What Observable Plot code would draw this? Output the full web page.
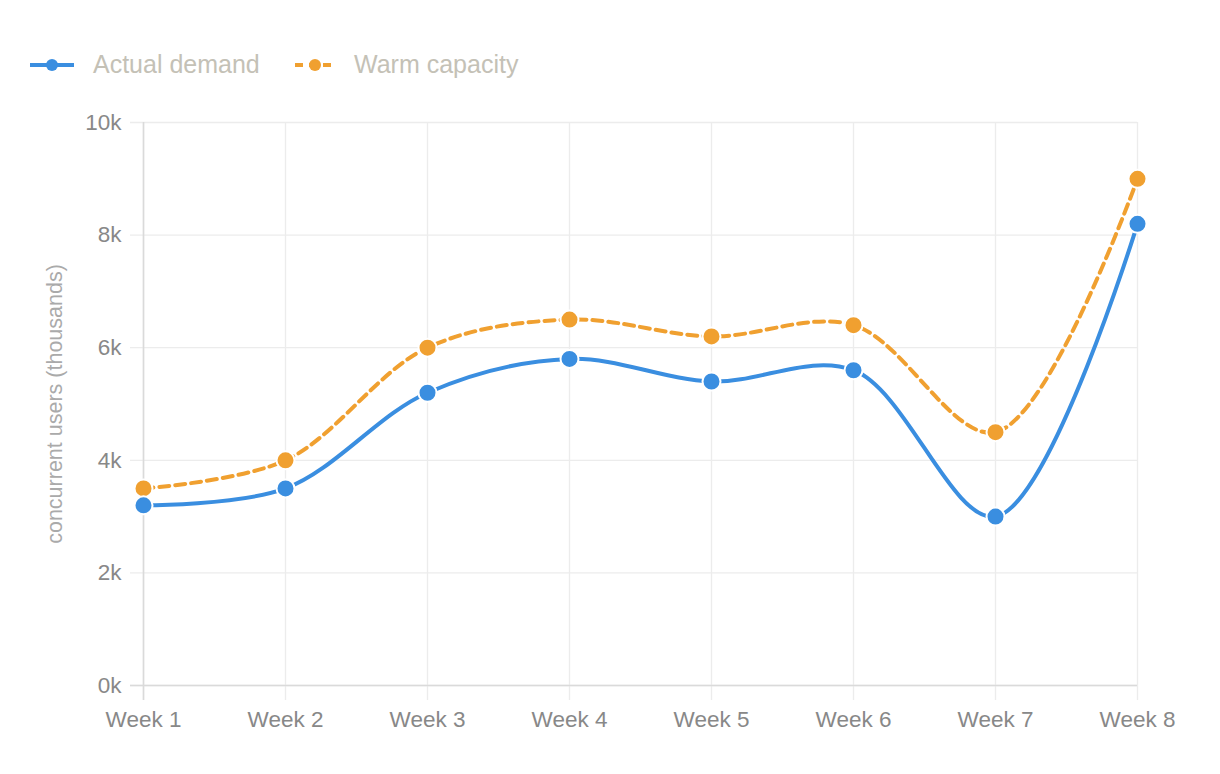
<!DOCTYPE html>
<html>
<head>
<meta charset="utf-8">
<script src="https://cdn.jsdelivr.net/npm/d3@7"></script>
<script src="https://cdn.jsdelivr.net/npm/@observablehq/plot@0.6"></script>
<style>
  html, body { margin: 0; padding: 0; background: #fff; }
  body { width: 1220px; height: 774px; overflow: hidden; font-family: "Liberation Sans", Arial, sans-serif; }
  #legend { height: 95px; position: relative; }
  .item { position: absolute; top: 50px; display: flex; align-items: center; font-size: 25px; color: #c4c1b6; }
  .item svg { margin-right: 19px; }
</style>
</head>
<body>
<div id="legend"></div>
<div id="chart"></div>
<script>
const weeks = ["Week 1","Week 2","Week 3","Week 4","Week 5","Week 6","Week 7","Week 8"];
const actualDemand = [3200, 3500, 5200, 5800, 5400, 5600, 3000, 8200];
const warmCapacity = [3500, 4000, 6000, 6500, 6200, 6400, 4500, 9000];
const yTicks = [0, 2000, 4000, 6000, 8000, 10000];
const seriesNames = ["Actual demand", "Warm capacity"];
const colors = ["#3a8ee0", "#f0a030"];

const actual = weeks.map((w, i) => ({week: w, value: actualDemand[i]}));
const warm = weeks.map((w, i) => ({week: w, value: warmCapacity[i]}));

// Legend
const legend = document.getElementById("legend");
const lefts = [30, 295];
seriesNames.forEach((name, i) => {
  const div = document.createElement("div");
  div.className = "item";
  div.style.left = lefts[i] + "px";
  const dash = i === 1 ? 'stroke-dasharray="8,6" stroke-dashoffset="0"' : "";
  const w = i === 0 ? 44 : 40;
  div.innerHTML = `<svg width="${w}" height="14"><line x1="0" x2="${w}" y1="7" y2="7" stroke="${colors[i]}" stroke-width="4" ${dash}/><circle cx="${w/2}" cy="7" r="6" fill="${colors[i]}"/></svg><span>${name}</span>`;
  legend.appendChild(div);
});

const fontFamily = '"Liberation Sans", Arial, sans-serif';
const first = () => weeks[0];
const last = () => weeks[weeks.length - 1];
const chart = Plot.plot({
  width: 1220,
  height: 679,
  marginLeft: 141,
  marginRight: 81,
  marginTop: 27,
  marginBottom: 89,
  style: {fontFamily, fontSize: "22.5px", background: "transparent", overflow: "visible"},
  x: {type: "point", domain: weeks, padding: 0},
  y: {domain: [0, 10000]},
  marks: [
    Plot.ruleX(weeks, {x: d => d, y1: 10000, y2: 0, stroke: "#ececec", strokeWidth: 1.3, insetBottom: -15}),
    Plot.ruleY(yTicks, {y: d => d, x1: first, x2: last, stroke: "#ececec", strokeWidth: 1.3, insetLeft: -13}),
    Plot.ruleY([0], {x1: first, x2: last, stroke: "#dadada", strokeWidth: 1.6, insetLeft: -13}),
    Plot.ruleX([weeks[0]], {y1: 10000, y2: 0, stroke: "#dadada", strokeWidth: 1.6, insetBottom: -15}),
    Plot.axisY({ticks: yTicks, tickSize: 0, tickPadding: 20, tickFormat: d => d / 1000 + "k", fontSize: 22.5, fill: "#888", label: null}),
    Plot.axisX({tickSize: 0, tickPadding: 26, fontSize: 22.5, fill: "#888", label: null}),
    Plot.text(["concurrent users (thousands)"], {frameAnchor: "left", dx: -86, rotate: -90, textAnchor: "middle", fontSize: 21.5, fill: "#aaa", text: d => d}),
    Plot.line(warm, {x: "week", y: "value", stroke: colors[1], strokeWidth: 4, strokeDasharray: "10,6", curve: "catmull-rom"}),
    Plot.line(actual, {x: "week", y: "value", stroke: colors[0], strokeWidth: 4, curve: "catmull-rom"}),
    Plot.dot(warm, {x: "week", y: "value", r: 9, fill: colors[1], stroke: "#fff", strokeWidth: 2}),
    Plot.dot(actual, {x: "week", y: "value", r: 9, fill: colors[0], stroke: "#fff", strokeWidth: 2})
  ]
});
document.getElementById("chart").appendChild(chart);
</script>
</body>
</html>
